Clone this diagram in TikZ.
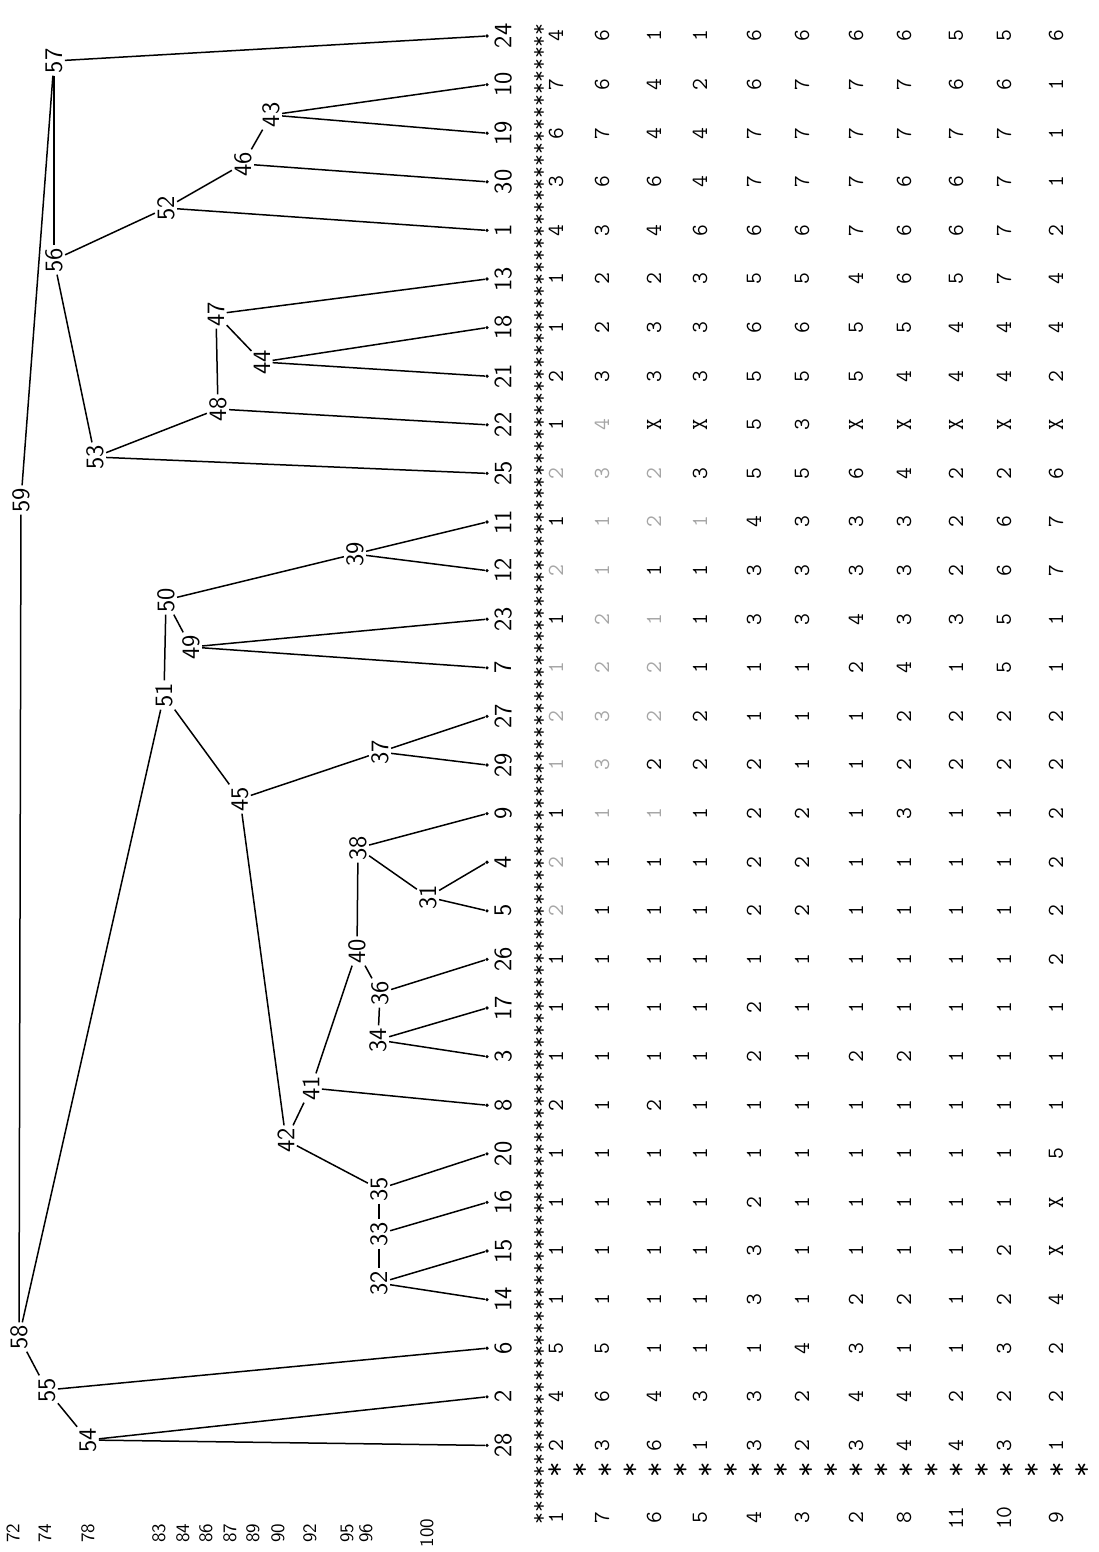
\documentclass[tikz,border=0pt]{standalone}
\newcommand\fa[1]{\textcolor{black!35}{#1}}
\begin{document}
\begin{tikzpicture}[x=0.5pt,y=-0.5pt,
  lab/.style={rotate=90, inner sep=1pt, font=\fontsize{12.5}{12.5}\selectfont\sffamily},
  leaflab/.style={lab, anchor=north},
  leafdot/.style={circle, fill=black, inner sep=0pt, minimum size=1.8pt},
  val/.style={rotate=90, inner sep=0.5pt, font=\fontsize{11.5}{11.5}\selectfont\ttfamily},
  scl/.style={rotate=90, inner sep=0.5pt, font=\fontsize{9.5}{9.5}\selectfont\sffamily},
  star/.style={rotate=90, inner sep=0pt, font=\fontsize{12}{12}\selectfont\ttfamily},
  edge/.style={line width=0.75pt, black}]

\useasboundingbox (0,0) rectangle (1098,1552);

% leaves
\foreach \n [count=\i from 0] in {24,10,19,30,1,13,18,21,22,25,11,12,23,7,27,29,9,4,5,26,17,3,8,20,16,15,14,6,2,28} {
  \pgfmathsetmacro{\yy}{36+48.6*\i}
  \node[leafdot] (L\n) at (487,\yy) {};
  \node[leaflab] (T\n) at (492,\yy) {\n};
}

% internal nodes
\foreach \n/\x/\y in {57/54/61, 56/54/260, 52/166/208, 46/243/164, 43/271/115,
  47/216/314, 44/262/362, 48/218/409, 53/95/457, 59/21/500, 39/355/554,
  50/166/600, 49/191/647, 51/164/695, 45/240/799, 37/380/752, 38/358/848,
  31/428/897, 40/357/951, 36/380/993, 34/378/1040, 41/311/1088, 42/286/1140,
  35/379/1189, 33/379/1234, 32/379/1283, 58/19/1337, 55/47/1390, 54/88/1440}
  \node[lab] (N\n) at (\x,\y) {\n};

% connectors between internal nodes
\foreach \a/\b in {59/57, 59/58, 57/56, 56/52, 56/53, 52/46, 46/43, 53/48, 48/47,
  47/44, 58/51, 58/55, 55/54, 51/50, 51/45, 50/39, 50/49, 45/37, 45/42, 42/41,
  42/35, 41/40, 40/38, 40/36, 38/31, 36/34, 35/33, 33/32}
  \draw[edge] (N\a) -- (N\b);

% connectors to leaves
\foreach \a/\b in {57/24, 52/1, 46/30, 43/10, 43/19, 53/25, 48/22, 47/13, 44/18,
  44/21, 55/6, 54/2, 54/28, 39/11, 39/12, 49/23, 49/7, 37/27, 37/29, 38/9,
  31/4, 31/5, 36/26, 34/17, 34/3, 41/8, 35/20, 33/16, 32/15, 32/14}
  \draw[edge] (N\a) -- (L\b);

% separator of asterisks
\node[star, font=\fontsize{11.57}{11.57}\selectfont\ttfamily] (SC) at (540,774)
  {******************************************************************************************************************************};

% data table
\foreach \n/\vals [count=\i from 0] in {
  24/{4,6,1,1,6,6,6,6,5,5,6},
  10/{7,6,4,2,6,7,7,7,6,6,1},
  19/{6,7,4,4,7,7,7,7,7,7,1},
  30/{3,6,6,4,7,7,7,6,6,7,1},
  1/{4,3,4,6,6,6,7,6,6,7,2},
  13/{1,2,2,3,5,5,4,6,5,7,4},
  18/{1,2,3,3,6,6,5,5,4,4,4},
  21/{2,3,3,3,5,5,5,4,4,4,2},
  22/{1,\fa{4},X,X,5,3,X,X,X,X,X},
  25/{\fa{2},\fa{3},\fa{2},3,5,5,6,4,2,2,6},
  11/{1,\fa{1},\fa{2},\fa{1},4,3,3,3,2,6,7},
  12/{\fa{2},\fa{1},1,1,3,3,3,3,2,6,7},
  23/{1,\fa{2},\fa{1},1,3,3,4,3,3,5,1},
  7/{\fa{1},\fa{2},\fa{2},1,1,1,2,4,1,5,1},
  27/{\fa{2},\fa{3},\fa{2},2,1,1,1,2,2,2,2},
  29/{\fa{1},\fa{3},2,2,2,1,1,2,2,2,2},
  9/{1,\fa{1},\fa{1},1,2,2,1,3,1,1,2},
  4/{\fa{2},1,1,1,2,2,1,1,1,1,2},
  5/{\fa{2},1,1,1,2,2,1,1,1,1,2},
  26/{1,1,1,1,1,1,1,1,1,1,2},
  17/{1,1,1,1,2,1,1,1,1,1,1},
  3/{1,1,1,1,2,1,2,2,1,1,1},
  8/{2,1,2,1,1,1,1,1,1,1,1},
  20/{1,1,1,1,1,1,1,1,1,1,5},
  16/{1,1,1,1,2,1,1,1,1,1,X},
  15/{1,1,1,1,3,1,1,1,1,2,X},
  14/{1,1,1,1,3,1,2,2,1,2,4},
  6/{5,5,1,1,1,4,3,1,1,3,2},
  2/{4,6,4,3,3,2,4,4,2,2,2},
  28/{2,3,6,1,3,2,3,4,4,3,1}} {
  \pgfmathsetmacro{\yy}{36+48.6*\i}
  \foreach \v [count=\j from 0] in \vals {
    \pgfmathsetmacro{\xx}{{556,602,654,700,754,802,856,904,956,1004,1056}[\j]}
    \node[val] (V\n-\j) at (\xx,\yy) {\v};
  }
}

% lower row of asterisks
\foreach \k in {0,...,21}
  \node[star, font=\fontsize{15}{15}\selectfont\ttfamily] (H\k) at (556+25.1*\k,1470) {*};

% variable numbers
\foreach \r [count=\j from 0] in {1,7,6,5,4,3,2,8,11,10,9} {
  \pgfmathsetmacro{\xx}{{556,602,654,700,754,802,856,904,956,1004,1056}[\j]}
  \node[val] (R\j) at (\xx,1518) {\r};
}

% similarity scale
\foreach \s/\x in {72/13, 74/45, 78/88, 83/159, 84/183, 86/206, 87/230, 89/253,
  90/278, 92/310, 95/347, 96/366, 100/427}
  \node[scl] (S\s) at (\x,1533) {\s};
\end{tikzpicture}
\end{document}
